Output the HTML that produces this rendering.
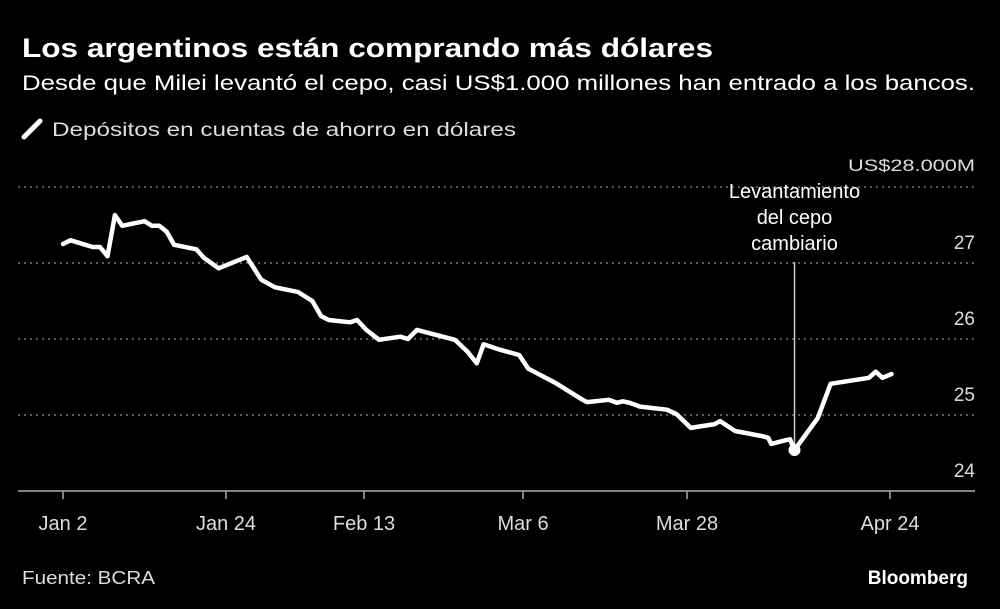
<!DOCTYPE html>
<html><head><meta charset="utf-8"><style>
body{margin:0;background:#000;width:1000px;height:609px;overflow:hidden;font-family:"Liberation Sans",sans-serif;color:#fff}
svg{position:absolute;left:0;top:0}
</style></head><body>
<svg width="1000" height="609">
<text x="22" y="57" font-size="27" font-weight="bold" fill="#fff" textLength="691" lengthAdjust="spacingAndGlyphs">Los argentinos están comprando más dólares</text>
<text x="22" y="90" font-size="21" fill="#fff" textLength="953" lengthAdjust="spacingAndGlyphs">Desde que Milei levantó el cepo, casi US$1.000 millones han entrado a los bancos.</text>
<line x1="24" y1="137" x2="40" y2="121" stroke="#fff" stroke-width="5" stroke-linecap="round"/>
<text x="52" y="136" font-size="19" fill="#ddd" textLength="464" lengthAdjust="spacingAndGlyphs">Depósitos en cuentas de ahorro en dólares</text>
<g id="grid"></g><g id="ylab"></g><g id="xlab"></g><g id="plot"></g>
<text x="22" y="584" font-size="18" fill="#ddd" textLength="133" lengthAdjust="spacingAndGlyphs">Fuente: BCRA</text>
<text x="968" y="584" font-size="19" font-weight="bold" fill="#fff" text-anchor="end">Bloomberg</text>
</svg>
<script>
const days=[0,1,4,5,6,7,8,11,12,13,14,15,18,19,21,25,27.1,29.1,32.4,34.5,35.8,36.9,40,41,42.3,44,46.8,47.8,49,54,55.7,56.9,57.8,59.9,62.5,63.7,67.4,71,71.6,74.5,75.6,76.4,77.3,78.7,82.3,83.6,85.5,88.7,89.4,91.4,95.1,95.8,96.2,98.2,98.7,99.3,102.4,104.1,109.2,110.1,111,112.2];
const values=[27.25,27.30,27.21,27.21,27.09,27.63,27.49,27.55,27.49,27.49,27.41,27.24,27.18,27.07,26.93,27.08,26.78,26.68,26.62,26.50,26.30,26.25,26.22,26.25,26.12,25.99,26.03,26.00,26.12,25.99,25.83,25.68,25.93,25.86,25.79,25.61,25.42,25.20,25.17,25.20,25.16,25.18,25.16,25.11,25.07,25.01,24.83,24.88,24.92,24.79,24.72,24.70,24.62,24.67,24.68,24.54,24.96,25.41,25.49,25.57,25.49,25.54];
const yTicks=[28,27,26,25,24];
const yTickLabels=["US$28.000M","27","26","25","24"];
const xTicks=[0,22,42,63,85,112];
const xTickLabels=["Jan 2","Jan 24","Feb 13","Mar 6","Mar 28","Apr 24"];
const eventDay=99.3, eventValue=24.54;
const tickPx=[63,226,364,523,687,890];
function xs(d){
 for(let i=0;i<xTicks.length-1;i++){
  if(d<=xTicks[i+1]||i==xTicks.length-2){
   return tickPx[i]+(d-xTicks[i])*(tickPx[i+1]-tickPx[i])/(xTicks[i+1]-xTicks[i]);
  }
 }
}
const ys=v=>187+(28-v)*76;
const NS="http://www.w3.org/2000/svg";
function mk(t,a,p){const e=document.createElementNS(NS,t);for(const k in a)e.setAttribute(k,a[k]);p.appendChild(e);return e;}
const g=document.getElementById('grid'),yl=document.getElementById('ylab'),xl=document.getElementById('xlab'),pl=document.getElementById('plot');
yTicks.forEach((v,i)=>{
 const l=mk('line',{x1:18,x2:975,y1:ys(v),y2:ys(v),stroke:i==4?'#aaa':'#777','stroke-width':1.5,'stroke-dasharray':i==4?'':'2 4'},g);
 
 
 const a={x:975,y:i==0?ys(v)-16:ys(v)-14,'font-size':i==0?17:19,fill:'#ddd','text-anchor':'end'};
 if(i==0){a.textLength=127;a.lengthAdjust='spacingAndGlyphs';}
 const t=mk('text',a,yl);
 t.textContent=yTickLabels[i];
 
 
});
xTicks.forEach((d,i)=>{
 const l=mk('line',{x1:xs(d),x2:xs(d),y1:491,y2:499,stroke:'#aaa','stroke-width':1.5},xl);
 
 
 const t=mk('text',{x:xs(d),y:530,'font-size':20,fill:'#ddd','text-anchor':'middle'},xl);
 t.textContent=xTickLabels[i];
 
 
});
const ex=xs(eventDay);
const al=mk('line',{x1:ex,x2:ex,y1:262,y2:ys(eventValue),stroke:'#ccc','stroke-width':1.5},pl);


["Levantamiento","del cepo","cambiario"].forEach((s,i)=>{
 const t=mk('text',{x:ex,y:198+i*26,'font-size':20,fill:'#fff','text-anchor':'middle'},pl);
 t.textContent=s;
 
 
});
const path=mk('path',{d:days.map((d,i)=>(i?'L':'M')+xs(d).toFixed(1)+','+ys(values[i]).toFixed(1)).join(''),fill:'none',stroke:'#fff','stroke-width':4.5,'stroke-linejoin':'round','stroke-linecap':'round'},pl);


const dot=mk('circle',{cx:ex,cy:ys(eventValue),r:6,fill:'#fff'},pl);


</script>
</body></html>
